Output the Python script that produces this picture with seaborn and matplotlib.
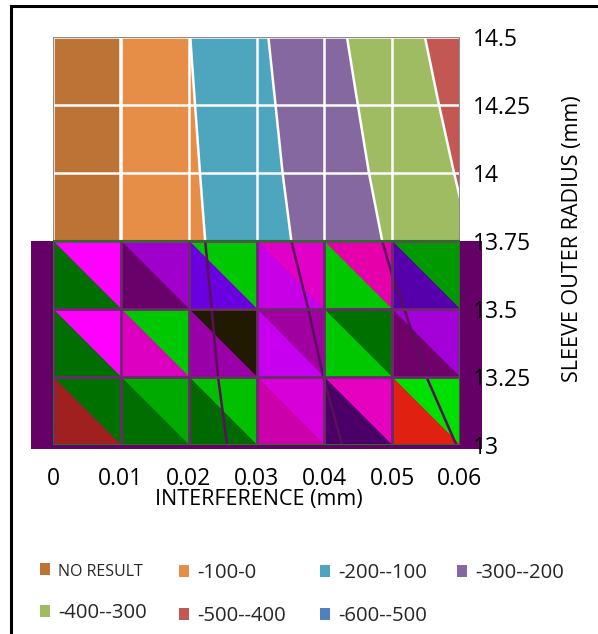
import numpy as np
import matplotlib
matplotlib.use("Agg")
import matplotlib.pyplot as plt
import matplotlib.tri as mtri
from matplotlib.colors import ListedColormap
from matplotlib.patches import Patch, Rectangle
import seaborn as sns

sns.set_theme(style="white")
plt.rcParams['font.family'] = ['Open Sans', 'DejaVu Sans']

# dados
interference = [0.0, 0.01, 0.02, 0.03, 0.04, 0.05, 0.06]
radius = [13.0, 13.25, 13.5, 13.75, 14.0, 14.25, 14.5]
x_labels = ['0', '0.01', '0.02', '0.03', '0.04', '0.05', '0.06']
y_labels = ['13', '13.25', '13.5', '13.75', '14', '14.25', '14.5']

# pressão de contato, uma linha por raio (de baixo para cima)
pressure_13_00 = [50, -1, -70, -123, -183, -248, -303]
pressure_13_25 = [50, -1, -74, -134, -201, -266, -333]
pressure_13_50 = [50, -1, -77, -145, -217, -289, -350]
pressure_13_75 = [50, -1, -80, -162, -236, -311, -388]
pressure_14_00 = [50, -1, -86, -170, -248, -327, -407]
pressure_14_25 = [50, -1, -92, -177, -259, -342, -426]
pressure_14_50 = [50, -1, -98, -185, -271, -358, -445]

band_levels = [-600, -500, -400, -300, -200, -100, 0, 100]
band_names = ['-600--500', '-500--400', '-400--300', '-300--200',
              '-200--100', '-100-0', 'NO RESULT']
band_colors = ['#4F81BD', '#C35753', '#A0BC62', '#8568A0',
               '#4DA6BE', '#E68E48', '#BD7336']

# parte "quebrada" abaixo de 13.75: cor dos dois triângulos de cada célula (linhas de cima p/ baixo)
upper_tri_colors = [
    ['#FF00FF', '#A000CC', '#00C800', '#E000C8', '#E600AA', '#009A00'],
    ['#FF00FF', '#00C800', '#221A00', '#A000A0', '#007000', '#A400D8'],
    ['#007000', '#00AA00', '#00C000', '#D800D8', '#E600C0', '#00E000'],
]
lower_tri_colors = [
    ['#006E00', '#6A006A', '#6A00E0', '#C800E6', '#00C800', '#5500AA'],
    ['#006E00', '#DD00C0', '#9900A8', '#C800F0', '#00C800', '#70006A'],
    ['#A02020', '#006E00', '#006A00', '#CC00AA', '#4A0066', '#E02010'],
]

pressure = np.array([pressure_13_00, pressure_13_25, pressure_13_50, pressure_13_75,
                     pressure_14_00, pressure_14_25, pressure_14_50])
radius = np.array(radius)
top = radius >= 13.75
low = radius <= 13.75
r_top, r_low = radius[top], radius[low]
x0, x1 = interference[0], interference[-1]

fig = plt.figure(figsize=(5.98, 6.34), dpi=100)
ax = fig.add_axes([53 / 598, 1 - 445 / 634, 407 / 598, 408 / 634])

# parte superior: contorno normal
ax.contourf(interference, r_top, pressure[top], levels=band_levels, colors=band_colors, zorder=1)
ax.contour(interference, r_top, pressure[top], levels=band_levels[1:-1], colors='white',
           linewidths=1.8, linestyles='solid', zorder=2)
ax.vlines(interference, r_top[0], r_top[-1], color='white', lw=1.8, zorder=2)
ax.hlines(r_top, x0, x1, color='white', lw=1.8, zorder=2)
ax.add_patch(Rectangle((x0, r_top[0]), x1 - x0, r_top[-1] - r_top[0], fill=False,
                       edgecolor='#8C8C8C', lw=1.5, zorder=3))

# fundo roxo atrás da parte quebrada
pad = 0.0032
ax.add_patch(Rectangle((x0 - pad, r_low[0] - 0.015), x1 - x0 + 2 * pad, r_low[-1] - r_low[0] + 0.015,
                       color='#650067', lw=0, clip_on=False, zorder=0.5))

# parte inferior: triângulos
X, Y = np.meshgrid(interference, r_low)
nx, ny = len(interference), len(r_low)
triangles, colors = [], []
for j in range(ny - 1):
    row = ny - 2 - j
    for i in range(nx - 1):
        bl, br = j * nx + i, j * nx + i + 1
        tl, tr = (j + 1) * nx + i, (j + 1) * nx + i + 1
        triangles.append([tl, tr, br])
        colors.append(upper_tri_colors[row][i])
        triangles.append([tl, bl, br])
        colors.append(lower_tri_colors[row][i])
tri = mtri.Triangulation(X.ravel(), Y.ravel(), triangles)
ax.tripcolor(tri, facecolors=np.arange(len(colors)), cmap=ListedColormap(colors),
             vmin=-0.5, vmax=len(colors) - 0.5, edgecolors='face', lw=0.3, zorder=1)
ax.contour(interference, r_low, pressure[low], levels=[-300, -200, -100], colors='#5A0F5A',
           linewidths=1.8, linestyles='solid', zorder=2)
ax.vlines(interference, r_low[0], r_low[-1], color='#6B2A6B', lw=2, zorder=2)
ax.hlines(r_low, x0, x1, color='#6B2A6B', lw=2, zorder=2)
ax.add_patch(Rectangle((x0, r_low[0]), x1 - x0, r_low[-1] - r_low[0], fill=False,
                       edgecolor='#2E6A2E', lw=1.5, zorder=3))

ax.set_xlim(x0, x1)
ax.set_ylim(radius[0], radius[-1])
ax.set_xticks(interference)
ax.set_xticklabels(x_labels)
ax.set_yticks(radius)
ax.set_yticklabels(y_labels)
ax.yaxis.tick_right()
ax.tick_params(axis='x', length=0, pad=16, labelsize=16.5, colors='black')
ax.tick_params(axis='y', length=0, pad=9, labelsize=16.5, colors='black')
for s in ax.spines.values():
    s.set_visible(False)

ax.set_xlabel('INTERFERENCE (mm)', fontsize=15.5, color='black')
ax.xaxis.set_label_coords(0.506, -0.108)
ax.set_ylabel('SLEEVE OUTER RADIUS (mm)', fontsize=15.5, color='black')
ax.yaxis.set_label_position('right')
ax.yaxis.set_label_coords(1.251, 0.505)

# legenda: 4 colunas de largura fixa, 2 linhas
legend_columns = [[6, 2], [5, 1], [4, 0], [3]]
column_x = [30, 169, 310, 447]
for cols, cx in zip(legend_columns, column_x):
    handles = [Patch(facecolor=band_colors[k], edgecolor='none') for k in cols]
    labels = [band_names[k] for k in cols]
    leg = fig.legend(handles, labels, loc='upper left', bbox_to_anchor=(cx / 598, 1 - 553 / 634),
                     frameon=False, fontsize=14.6, handlelength=0.5, handleheight=0.5,
                     handletextpad=0.4, labelspacing=1.15, borderpad=0)
    for t in leg.get_texts():
        if t.get_text() == 'NO RESULT':
            t.set_fontsize(11.5)

# moldura do gráfico (cortada à direita e embaixo)
fig.patches.append(Rectangle((11 / 598, -0.1), 1.2, 0.1 + 1 - 6 / 634, transform=fig.transFigure,
                             fill=False, edgecolor='black', lw=2.2))

fig.savefig('out.png', dpi=100)
